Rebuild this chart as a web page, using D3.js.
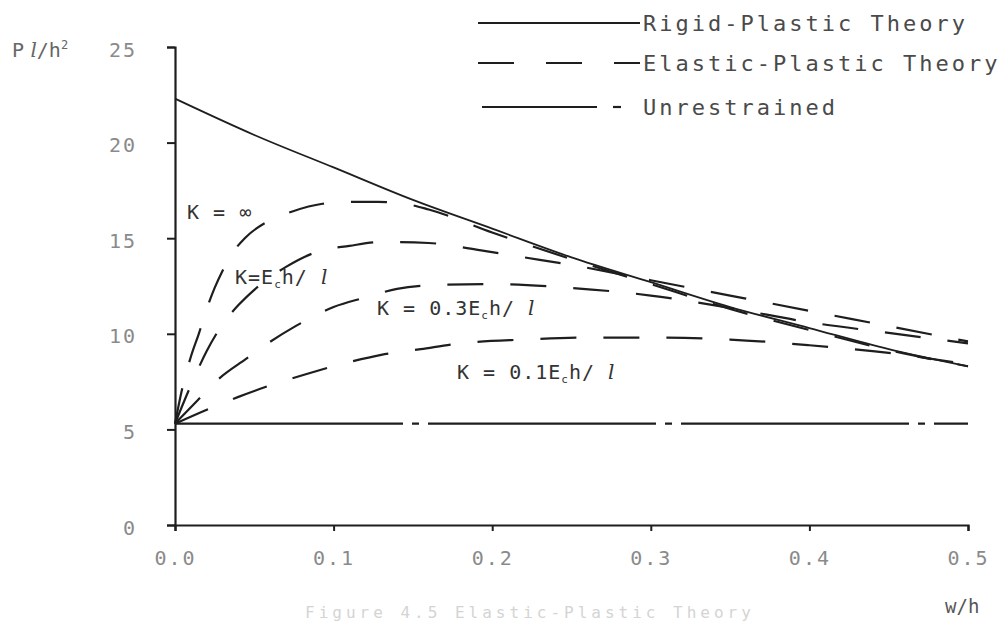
<!DOCTYPE html>
<html>
<head>
<meta charset="utf-8">
<script src="https://cdn.jsdelivr.net/npm/d3@7"></script>
<style>
  html, body { margin: 0; padding: 0; background: #fff; }
  svg { display: block; }
  text { font-family: "DejaVu Sans Mono", "Liberation Mono", monospace; }
</style>
</head>
<body>
<svg id="chart" width="1001" height="624"></svg>
<script>
// w/h (deflection ratio) and P l / h^2 (load) for each theory
const rigidPlastic = [
  [0, 22.3], [0.05, 20.4], [0.1, 18.7], [0.15, 17.0], [0.2, 15.5], [0.25, 14.0],
  [0.3, 12.7], [0.35, 11.4], [0.4, 10.3], [0.45, 9.2], [0.5, 8.3]
];
const kInfinite = [
  [0, 5.3], [0.005, 7.3], [0.01, 8.8], [0.015, 10.0], [0.02, 11.3], [0.025, 12.4],
  [0.03, 13.3], [0.036, 14.2], [0.044, 15.0], [0.059, 15.9], [0.074, 16.4],
  [0.093, 16.8], [0.11, 16.9], [0.128, 16.9], [0.145, 16.8], [0.16, 16.5],
  [0.2, 15.3], [0.25, 13.9], [0.3, 12.6], [0.35, 11.3], [0.4, 10.2], [0.45, 9.15], [0.5, 8.3]
];
const kEch = [
  [0, 5.3], [0.01, 7.3], [0.02, 9.1], [0.03, 10.5], [0.04, 11.5], [0.05, 12.3],
  [0.07, 13.5], [0.09, 14.3], [0.11, 14.6], [0.13, 14.8], [0.16, 14.75], [0.19, 14.4],
  [0.22, 14.0], [0.25, 13.6], [0.3, 12.8], [0.35, 12.0], [0.4, 11.2], [0.45, 10.4], [0.5, 9.6]
];
const k03Ech = [
  [0, 5.3], [0.014, 6.5], [0.027, 7.6], [0.045, 8.7], [0.055, 9.3], [0.076, 10.4],
  [0.1, 11.4], [0.12, 11.9], [0.14, 12.35], [0.165, 12.55], [0.2, 12.6], [0.25, 12.4],
  [0.3, 12.0], [0.35, 11.35], [0.4, 10.6], [0.45, 10.05], [0.5, 9.5]
];
const k01Ech = [
  [0, 5.3], [0.022, 6.1], [0.04, 6.7], [0.06, 7.3], [0.083, 7.9], [0.109, 8.5],
  [0.13, 8.9], [0.155, 9.2], [0.18, 9.5], [0.22, 9.7], [0.26, 9.8], [0.3, 9.8],
  [0.35, 9.7], [0.4, 9.4], [0.45, 9.0], [0.5, 8.4]
];
const unrestrained = [[0, 5.3], [0.5, 5.3]];

const xTicks = [0, 0.1, 0.2, 0.3, 0.4, 0.5];
const yTicks = [0, 5, 10, 15, 20, 25];
const legendLabels = ["Rigid-Plastic Theory", "Elastic-Plastic Theory", "Unrestrained"];

const svg = d3.select("#chart");
const ink = "#1e1e1e";
const x = d3.scaleLinear().domain([0, 0.5]).range([175, 968]);
const y = d3.scaleLinear().domain([0, 25]).range([525, 47]);

// axes
const xAxis = d3.axisBottom(x).tickValues(xTicks).tickSize(6).tickPadding(20)
  .tickFormat(d3.format(".1f"));
const yAxis = d3.axisLeft(y).tickValues(yTicks).tickSize(8).tickPadding(30)
  .tickFormat(d3.format("d"));

const gx = svg.append("g").attr("transform", `translate(0,${y(0)})`).call(xAxis);
const gy = svg.append("g").attr("transform", `translate(${x(0)},0)`).call(yAxis);
[gx, gy].forEach(g => {
  g.select(".domain").attr("stroke", ink).attr("stroke-width", 2.2);
  g.selectAll(".tick line").attr("stroke", ink).attr("stroke-width", 2);
  g.selectAll(".tick text").attr("fill", "#8a8a8a")
    .style("font-family", "'DejaVu Sans Mono', monospace")
    .style("font-size", "20px").style("letter-spacing", "2px");
});
gy.selectAll(".tick text").attr("dy", "0.45em");

// curves
const line = d3.line().x(d => x(d[0])).y(d => y(d[1])).curve(d3.curveMonotoneX);
const dashed = "36,27";

svg.append("path").datum(rigidPlastic).attr("d", line)
  .attr("fill", "none").attr("stroke", ink).attr("stroke-width", 1.8);

[kInfinite, kEch, k03Ech, k01Ech].forEach(series => {
  svg.append("path").datum(series).attr("d", line)
    .attr("fill", "none").attr("stroke", ink).attr("stroke-width", 2.2)
    .attr("stroke-dasharray", dashed);
});

svg.append("path").datum(unrestrained).attr("d", line)
  .attr("fill", "none").attr("stroke", ink).attr("stroke-width", 2.2)
  .attr("stroke-dasharray", "228,9,7,9");

// curve annotations
const ann = svg.append("g").attr("fill", "#333")
  .style("font-size", "20px").style("letter-spacing", "1px");

function kLabel(px, py, parts) {
  const t = ann.append("text").attr("x", px).attr("y", py);
  parts.forEach(p => {
    const s = t.append("tspan").text(p.t);
    if (p.sub) s.attr("font-size", "11px").attr("dy", "4");
    if (p.up) s.attr("dy", "-4");
    if (p.it) s.style("font-family", "'DejaVu Serif', serif").style("font-style", "italic");
  });
  return t;
}
kLabel(187, 219, [{ t: "K = ∞" }]);
kLabel(235, 284, [{ t: "K=E" }, { t: "c", sub: true }, { t: "h/ ", up: true }, { t: "l", it: true }]);
kLabel(377, 315, [{ t: "K = 0.3E" }, { t: "c", sub: true }, { t: "h/ ", up: true }, { t: "l", it: true }]);
kLabel(457, 379, [{ t: "K = 0.1E" }, { t: "c", sub: true }, { t: "h/ ", up: true }, { t: "l", it: true }]);

// axis titles
const yTitle = svg.append("text").attr("x", 12).attr("y", 57).attr("fill", "#666")
  .style("font-size", "20px");
yTitle.append("tspan").text("P");
yTitle.append("tspan").text(" l").style("font-family", "'DejaVu Serif', serif").style("font-style", "italic");
yTitle.append("tspan").text("/h");
yTitle.append("tspan").text("2").attr("font-size", "12px").attr("dy", "-8");

svg.append("text").attr("x", 945).attr("y", 613).attr("fill", "#555")
  .style("font-size", "19px").text("w/h");

// figure caption, faint along the bottom edge
svg.append("text").attr("x", 305).attr("y", 618).attr("fill", "#d4d4d4")
  .style("font-size", "16px").style("letter-spacing", "4px")
  .text("Figure 4.5  Elastic-Plastic Theory");

// legend
const legend = svg.append("g");
const rows = [23, 63, 107];
const lx0 = 478, lx1 = 640;
legend.append("line").attr("x1", lx0).attr("x2", lx1).attr("y1", rows[0]).attr("y2", rows[0])
  .attr("stroke", ink).attr("stroke-width", 2);
legend.append("line").attr("x1", lx0).attr("x2", lx1).attr("y1", rows[1]).attr("y2", rows[1])
  .attr("stroke", ink).attr("stroke-width", 2.2).attr("stroke-dasharray", "36,32");
legend.append("line").attr("x1", lx0 + 4).attr("x2", 597).attr("y1", rows[2]).attr("y2", rows[2])
  .attr("stroke", ink).attr("stroke-width", 2.2);
legend.append("line").attr("x1", 613).attr("x2", 621).attr("y1", rows[2]).attr("y2", rows[2])
  .attr("stroke", ink).attr("stroke-width", 2.2);
legendLabels.forEach((lab, i) => {
  legend.append("text").attr("x", 643).attr("y", rows[i] + 8).attr("fill", "#4a4a4a")
    .style("font-size", "22px").style("letter-spacing", "3px").text(lab);
});
</script>
</body>
</html>
